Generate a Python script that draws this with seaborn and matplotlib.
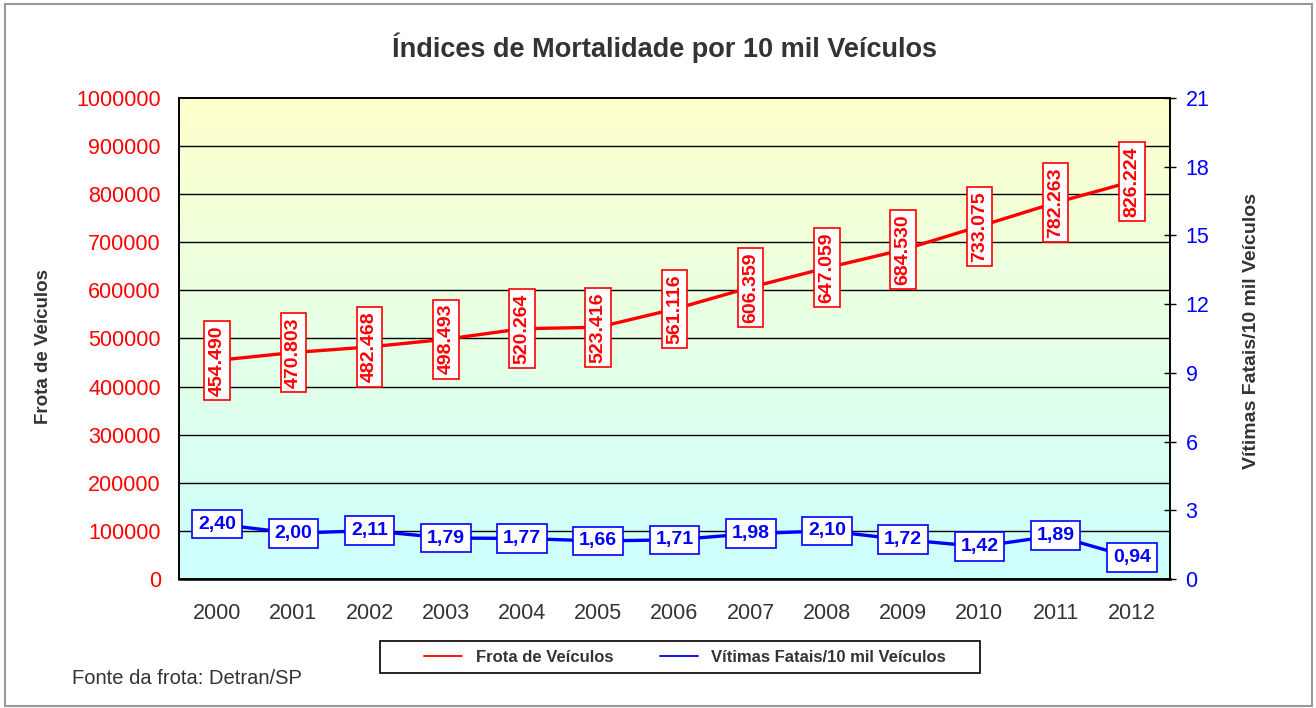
import matplotlib

matplotlib.use("Agg")

import matplotlib.pyplot as plt
import numpy as np
import pandas as pd
import seaborn as sns
from matplotlib.lines import Line2D
from matplotlib.patches import Rectangle


years = [2000, 2001, 2002, 2003, 2004, 2005, 2006, 2007, 2008, 2009, 2010, 2011, 2012]
frota = [454490, 470803, 482468, 498493, 520264, 523416, 561116,
         606359, 647059, 684530, 733075, 782263, 826224]
vitimas = [2.40, 2.00, 2.11, 1.79, 1.77, 1.66, 1.71, 1.98, 2.10, 1.72, 1.42, 1.89, 0.94]

left_ticks = [0, 100000, 200000, 300000, 400000, 500000, 600000, 700000, 800000, 900000, 1000000]
right_ticks = [0, 3, 6, 9, 12, 15, 18, 21]

title = "Índices de Mortalidade por 10 mil Veículos"
left_label = "Frota de Veículos"
right_label = "Vítimas Fatais/10 mil Veículos"
source_note = "Fonte da frota: Detran/SP"

RED = "#FF0000"
BLUE = "#0000FF"
TEXT = "#333333"

sns.set_style("white")
plt.rcParams["font.family"] = ["Liberation Sans", "DejaVu Sans"]

df = pd.DataFrame({"ano": years, "frota": frota, "vitimas": vitimas})

fig = plt.figure(figsize=(13.16, 7.08), dpi=100)
ax = fig.add_axes([0.136, 0.1822, 0.753, 0.6794])
ax2 = ax.twinx()

# gradient background (light yellow on top -> light cyan at bottom)
top = np.array([255, 255, 204]) / 255
bottom = np.array([204, 255, 255]) / 255
t = np.linspace(0, 1, 256)[:, None]
grad = (top * (1 - t) + bottom * t)[:, None, :]
ax.imshow(grad, extent=[1999.5, 2012.5, 0, 1000000], aspect="auto", zorder=0)

for y in left_ticks[1:-1]:
    ax.axhline(y, color="black", lw=1.0, zorder=1)

sns.lineplot(data=df, x="ano", y="frota", ax=ax, color=RED, lw=2.4, zorder=3)
sns.lineplot(data=df, x="ano", y="vitimas", ax=ax2, color=BLUE, lw=2.4, zorder=3)

ax.set_xlim(1999.5, 2012.5)
ax.set_ylim(0, 1000000)
ax2.set_ylim(0, 21)

ax.set_yticks(left_ticks)
ax.set_yticklabels([str(v) for v in left_ticks], color=RED, fontsize=15.5)
ax.tick_params(axis="y", length=0, pad=13)
ax2.set_yticks(right_ticks)
ax2.set_yticklabels([str(v) for v in right_ticks], color=BLUE, fontsize=15.5)
ax2.tick_params(axis="y", length=8.5, width=1, direction="inout", pad=7, color="black")

# ticks between categories, labels at category centres
ax.set_xticks([y - 0.5 for y in years] + [years[-1] + 0.5])
ax.set_xticklabels([])
ax.set_xticks(years, minor=True)
ax.set_xticklabels([str(y) for y in years], minor=True, fontsize=15.5, color=TEXT)
ax.tick_params(axis="x", which="major", length=6, width=1, direction="out", color="black")
ax.tick_params(axis="x", which="minor", length=0, pad=17)

ax.set_xlabel("")
ax.set_ylabel("")
ax2.set_ylabel("")
for a in (ax, ax2):
    for s in a.spines.values():
        s.set_color("black")
        s.set_linewidth(1.2)
ax.spines["bottom"].set_linewidth(1.8)
ax2.patch.set_visible(False)

for x, v in zip(years, frota):
    ax.text(x, v, f"{v:,}".replace(",", "."), rotation=90, ha="center", va="center",
            color=RED, fontsize=14, fontweight="bold", zorder=5,
            bbox=dict(boxstyle="square,pad=0.22", fc="white", ec=RED, lw=1.2))

for x, v in zip(years, vitimas):
    ax2.text(x, v, f"{v:.2f}".replace(".", ","), ha="center", va="center",
             color=BLUE, fontsize=14, fontweight="bold", zorder=5,
             bbox=dict(boxstyle="square,pad=0.3", fc="white", ec=BLUE, lw=1.2))

fig.text(0.505, 0.932, title, ha="center", va="center", fontsize=19.5,
         fontweight="bold", color=TEXT)
fig.text(0.033, 0.51, left_label, rotation=90, ha="center", va="center",
         fontsize=13.5, fontweight="bold", color=TEXT)
fig.text(0.951, 0.532, right_label, rotation=90, ha="center", va="center",
         fontsize=14, fontweight="bold", color=TEXT)
fig.text(0.055, 0.042, source_note, ha="left", va="center", fontsize=14.5, color=TEXT)

# legend box drawn separately so the inner padding can match the original
fig.patches.append(Rectangle((380 / 1316, 35 / 708), 600 / 1316, 32 / 708,
                             transform=fig.transFigure, fill=True, fc="white",
                             ec="black", lw=1.2, zorder=2))
handles = [Line2D([], [], color=RED, lw=1.3), Line2D([], [], color=BLUE, lw=1.3)]
leg = fig.legend(handles, [left_label, right_label], loc="center",
                 bbox_to_anchor=(685 / 1316, 51 / 708), ncol=2, frameon=False,
                 prop={"weight": "bold", "size": 12}, handlelength=2.3,
                 handletextpad=0.8, columnspacing=2.8, borderpad=0)
leg.set_zorder(3)
for txt in leg.get_texts():
    txt.set_color(TEXT)

fig.patches.append(Rectangle((0.004, 0.003), 0.993, 0.991, transform=fig.transFigure,
                             fill=False, ec="#999999", lw=1.5))

fig.savefig("out.png", dpi=100)
